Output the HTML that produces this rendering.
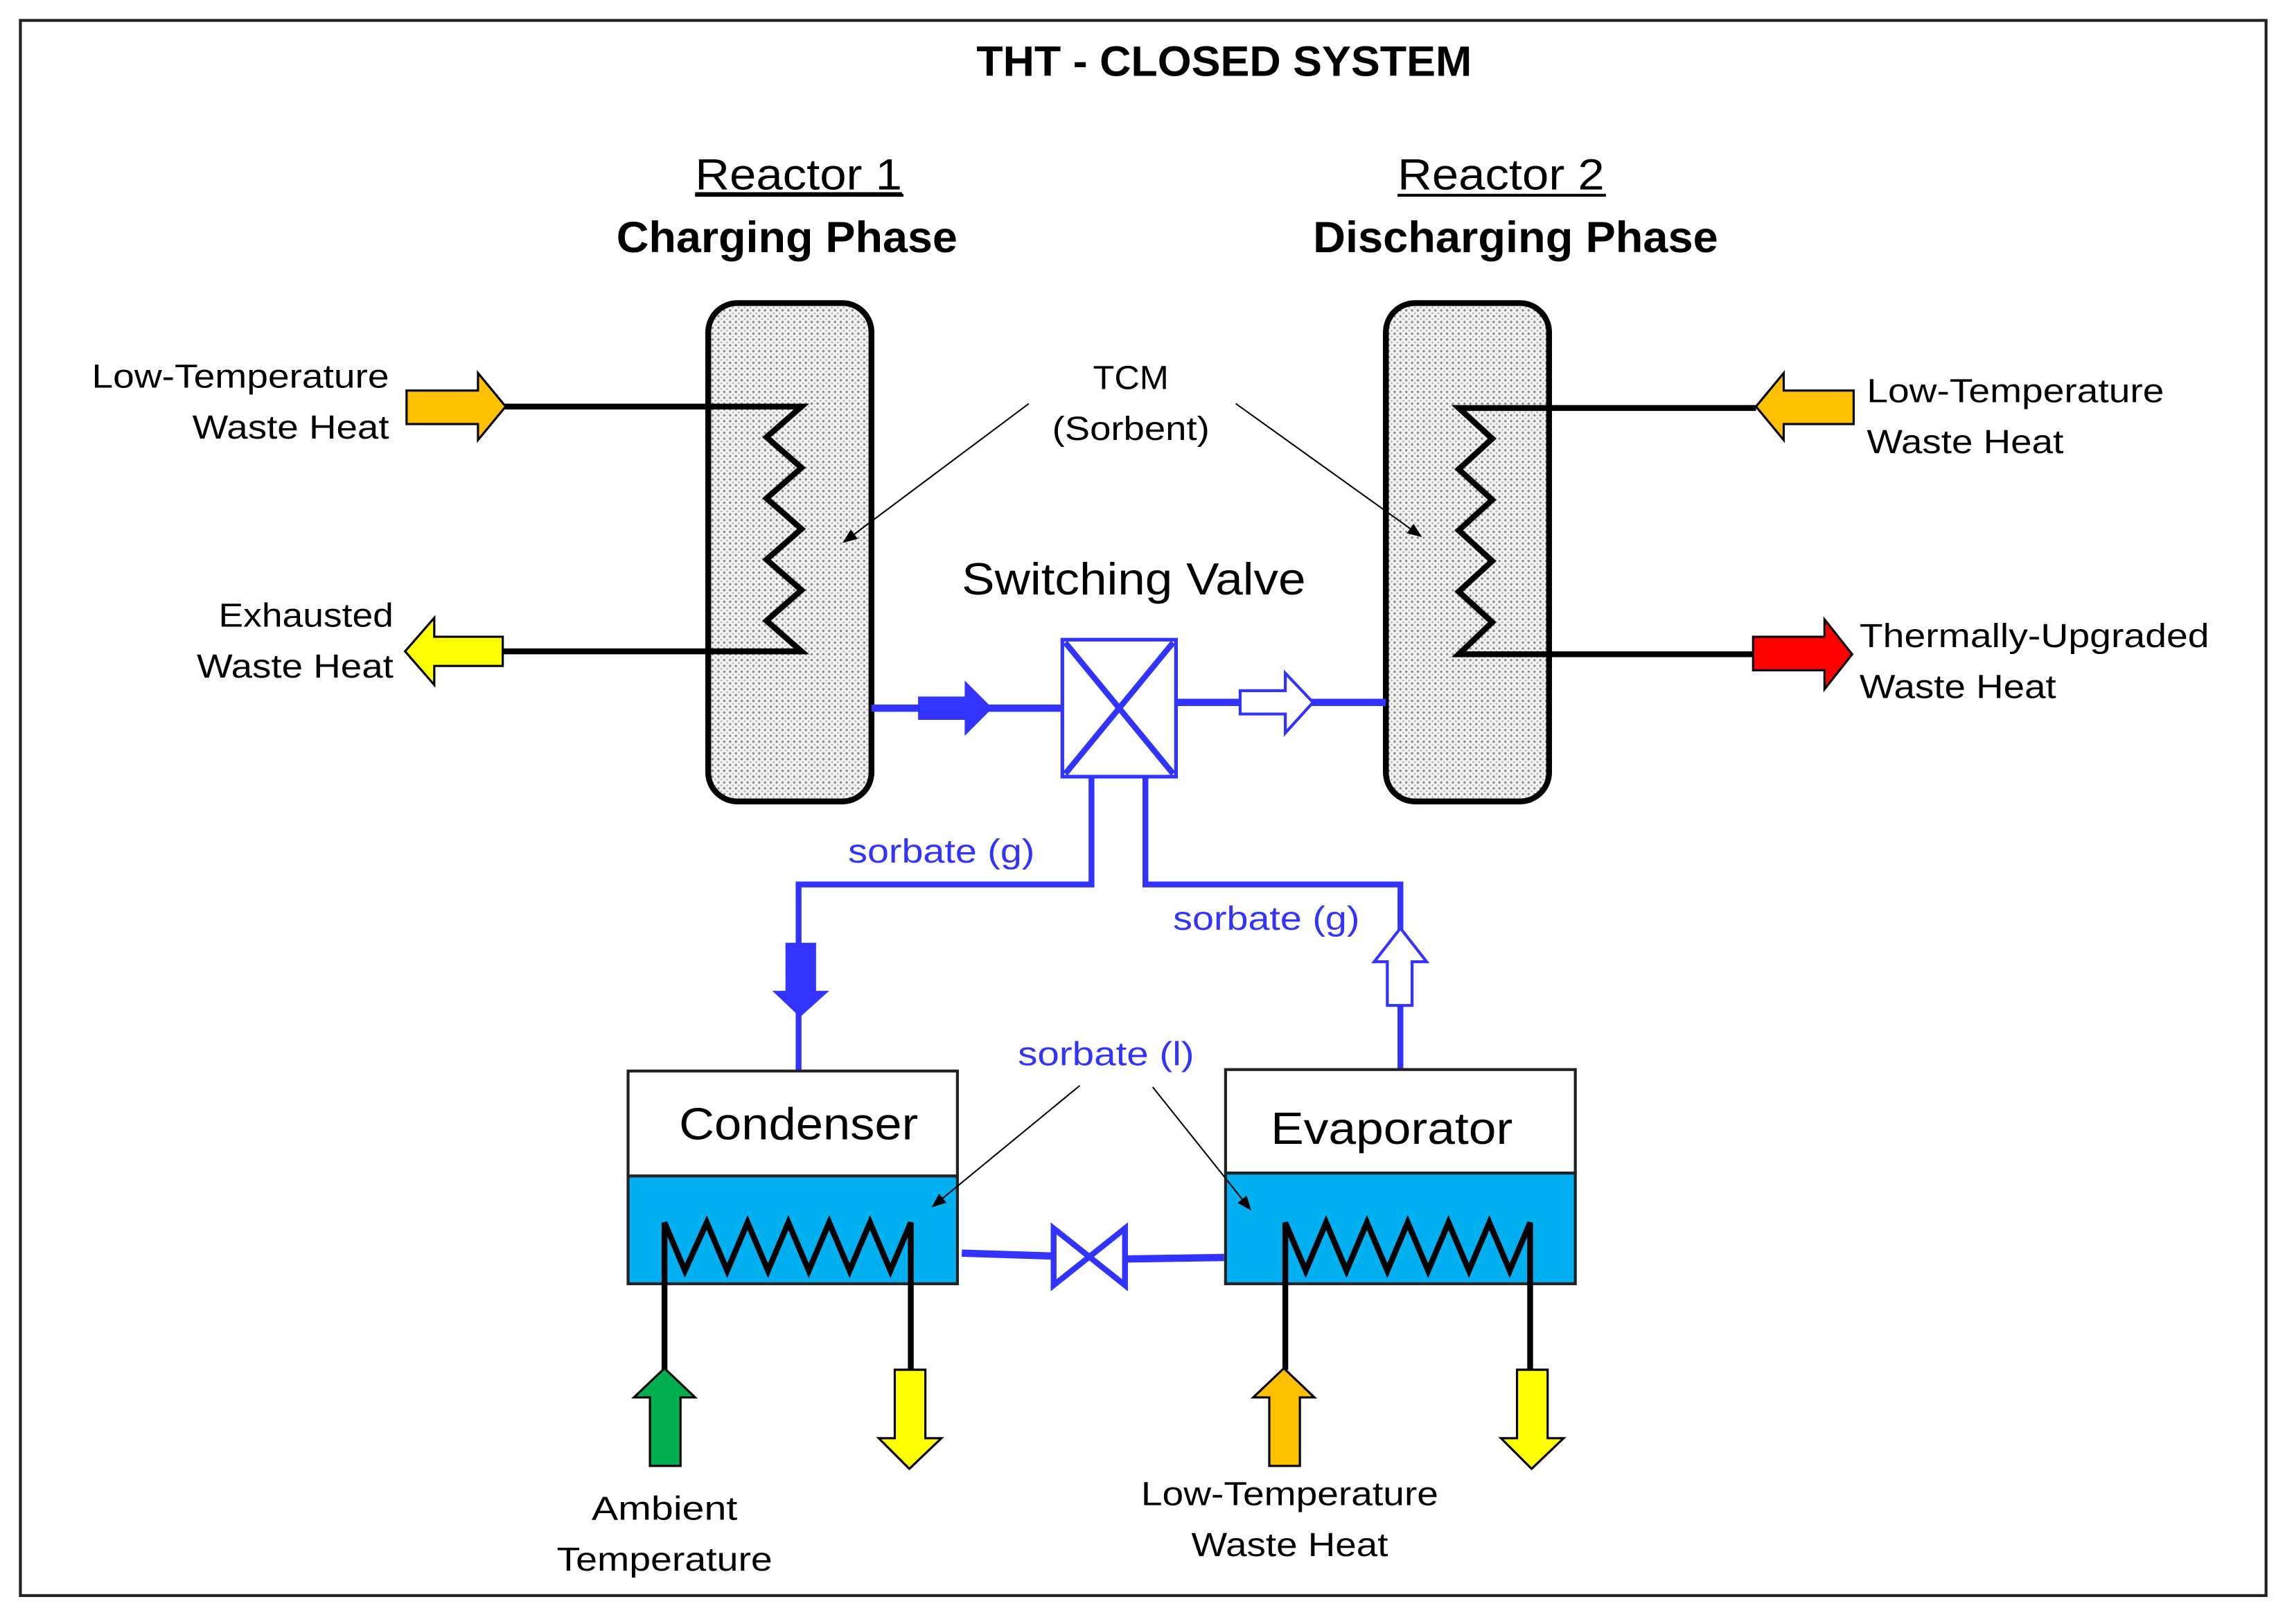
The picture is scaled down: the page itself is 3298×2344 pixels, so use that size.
<!DOCTYPE html>
<html><head><meta charset="utf-8">
<style>html,body{margin:0;padding:0;background:#fff}svg{display:block}</style></head>
<body>
<svg width="3298" height="2344" viewBox="0 0 1568 1114.5" preserveAspectRatio="none" xmlns="http://www.w3.org/2000/svg" font-family="'Liberation Sans', sans-serif">
<defs>
<pattern id="dots" width="4" height="4" patternUnits="userSpaceOnUse">
<rect width="4" height="4" fill="#f2f2f2"/>
<circle cx="1" cy="1" r="0.8" fill="#888"/>
<circle cx="3" cy="3" r="0.6" fill="#aaa"/>
</pattern>
<marker id="ah" markerWidth="10" markerHeight="10" refX="9" refY="5" orient="auto" markerUnits="userSpaceOnUse">
<path d="M0,1 L10,5 L0,9 Z" fill="#000"/>
</marker>
</defs>
<rect x="0" y="0" width="1568" height="1114.5" fill="#fff"/>
<rect x="14" y="14" width="1541" height="1081" fill="none" stroke="#222" stroke-width="2"/>

<text x="840" y="52" font-size="29" font-weight="bold" text-anchor="middle" textLength="340" lengthAdjust="spacingAndGlyphs">THT - CLOSED SYSTEM</text>
<text x="548" y="130" font-size="30" text-anchor="middle" text-decoration="underline" textLength="142" lengthAdjust="spacingAndGlyphs">Reactor 1</text>
<line x1="477" y1="134" x2="620" y2="134" stroke="#000" stroke-width="2"/>
<text x="540" y="173" font-size="30" font-weight="bold" text-anchor="middle" textLength="234" lengthAdjust="spacingAndGlyphs">Charging Phase</text>
<text x="1030" y="130" font-size="30" text-anchor="middle" textLength="142" lengthAdjust="spacingAndGlyphs">Reactor 2</text>
<line x1="959" y1="134" x2="1102" y2="134" stroke="#000" stroke-width="2"/>
<text x="1040" y="173" font-size="30" font-weight="bold" text-anchor="middle" textLength="278" lengthAdjust="spacingAndGlyphs">Discharging Phase</text>

<!-- reactors -->
<rect x="486" y="208" width="112" height="342" rx="20" fill="url(#dots)" stroke="#000" stroke-width="4"/>
<rect x="951" y="208" width="112" height="342" rx="20" fill="url(#dots)" stroke="#000" stroke-width="4"/>

<!-- reactor 1 coil -->
<polyline points="345,279 550,279 526,300 550,321 526,342 550,363 526,384 550,405 526,426 550,447 345,447" fill="none" stroke="#000" stroke-width="4"/>
<!-- reactor 2 coil -->
<polyline points="1205,280 1001,280 1024,301 1001,322 1024,343 1001,364 1024,385 1001,406 1024,427 1001,449 1203,449" fill="none" stroke="#000" stroke-width="4"/>

<!-- heat arrows reactor 1 -->
<polygon points="279,268 328,268 328,256 347,279 328,302 328,291 279,291" fill="#ffc000" stroke="#000" stroke-width="1.5"/>
<polygon points="345,437 298,437 298,424 278,447 298,470 298,457 345,457" fill="#ffff00" stroke="#000" stroke-width="1.5"/>
<!-- heat arrows reactor 2 -->
<polygon points="1272,268 1224,268 1224,256 1205,279 1224,302 1224,291 1272,291" fill="#ffc000" stroke="#000" stroke-width="1.5"/>
<polygon points="1203,437 1252,437 1252,425 1271,449 1252,473 1252,460 1203,460" fill="#ff0000" stroke="#000" stroke-width="1.5"/>

<g font-size="23">
<text x="267" y="266" text-anchor="end" textLength="204" lengthAdjust="spacingAndGlyphs">Low-Temperature</text>
<text x="267" y="301" text-anchor="end" textLength="135" lengthAdjust="spacingAndGlyphs">Waste Heat</text>
<text x="270" y="430" text-anchor="end" textLength="120" lengthAdjust="spacingAndGlyphs">Exhausted</text>
<text x="270" y="465" text-anchor="end" textLength="135" lengthAdjust="spacingAndGlyphs">Waste Heat</text>
<text x="1281" y="276" textLength="204" lengthAdjust="spacingAndGlyphs">Low-Temperature</text>
<text x="1281" y="311" textLength="135" lengthAdjust="spacingAndGlyphs">Waste Heat</text>
<text x="1276" y="444" textLength="240" lengthAdjust="spacingAndGlyphs">Thermally-Upgraded</text>
<text x="1276" y="479" textLength="135" lengthAdjust="spacingAndGlyphs">Waste Heat</text>
<text x="776" y="267" text-anchor="middle" textLength="52" lengthAdjust="spacingAndGlyphs">TCM</text>
<text x="776" y="302" text-anchor="middle" textLength="108" lengthAdjust="spacingAndGlyphs">(Sorbent)</text>
</g>
<line x1="706" y1="277" x2="579" y2="372" stroke="#000" stroke-width="1" marker-end="url(#ah)"/>
<line x1="848" y1="277" x2="975" y2="368" stroke="#000" stroke-width="1" marker-end="url(#ah)"/>

<text x="778" y="408" font-size="31" text-anchor="middle" textLength="236" lengthAdjust="spacingAndGlyphs">Switching Valve</text>

<!-- blue piping -->
<g stroke="#3333ff" fill="none">
<line x1="598" y1="486" x2="728" y2="486" stroke-width="5"/>
<line x1="807" y1="482" x2="951" y2="482" stroke-width="5"/>
<rect x="729" y="439" width="78" height="94" stroke-width="2.5" fill="#fff"/>
<line x1="731" y1="441" x2="805" y2="531" stroke-width="4"/>
<line x1="805" y1="441" x2="731" y2="531" stroke-width="4"/>
<polyline points="749,533 749,607 548,607 548,740" stroke-width="4"/>
<polyline points="786,533 786,607 961,607 961,735" stroke-width="4"/>
<line x1="660" y1="860" x2="724" y2="862" stroke-width="5"/>
<line x1="772" y1="864" x2="840" y2="863" stroke-width="5"/>
<polygon points="723,843 772,882 772,843 723,882" stroke-width="4" stroke-linejoin="miter"/>
</g>
<!-- blue arrows -->
<polygon points="630,478 662,478 662,467 681,486 662,505 662,494 630,494" fill="#3333ff"/>
<polygon points="851,474 882,474 882,462 901,482 882,503 882,490 851,490" fill="#fff" stroke="#3333ff" stroke-width="2"/>
<polygon points="539,647 560,647 560,680 569,680 549,698 530,680 539,680" fill="#3333ff"/>
<polygon points="952,690 969,690 969,660 979,660 961,637 943,660 952,660" fill="#fff" stroke="#3333ff" stroke-width="2"/>

<g font-size="23" fill="#3333ff">
<text x="646" y="592" text-anchor="middle" textLength="128" lengthAdjust="spacingAndGlyphs">sorbate (g)</text>
<text x="869" y="638" text-anchor="middle" textLength="128" lengthAdjust="spacingAndGlyphs">sorbate (g)</text>
<text x="759" y="731" text-anchor="middle" textLength="121" lengthAdjust="spacingAndGlyphs">sorbate (l)</text>
</g>

<!-- condenser -->
<rect x="431" y="807" width="226" height="74" fill="#00b0f0" stroke="#222" stroke-width="2"/>
<rect x="431" y="735" width="226" height="72" fill="#fff" stroke="#222" stroke-width="2"/>
<text x="548" y="782" font-size="31" text-anchor="middle" textLength="164" lengthAdjust="spacingAndGlyphs">Condenser</text>
<!-- evaporator -->
<rect x="841" y="805" width="240" height="76" fill="#00b0f0" stroke="#222" stroke-width="2"/>
<rect x="841" y="734" width="240" height="71" fill="#fff" stroke="#222" stroke-width="2"/>
<text x="955" y="785" font-size="31" text-anchor="middle" textLength="166" lengthAdjust="spacingAndGlyphs">Evaporator</text>

<!-- coils -->
<polyline points="456,940 456,839 470,872 485,839 499,872 513,839 527,872 541,839 555,872 569,839 583,872 597,839 611,872 625,839 625,940" fill="none" stroke="#000" stroke-width="4" stroke-linejoin="miter"/>
<polyline points="882,940 882,839 896,872 910,839 924,872 938,839 952,872 966,839 980,872 994,839 1008,872 1022,839 1036,872 1050,839 1050,940" fill="none" stroke="#000" stroke-width="4" stroke-linejoin="miter"/>

<line x1="741" y1="745" x2="640" y2="828" stroke="#000" stroke-width="1" marker-end="url(#ah)"/>
<line x1="791" y1="746" x2="858" y2="830" stroke="#000" stroke-width="1" marker-end="url(#ah)"/>

<!-- bottom arrows -->
<polygon points="446,1006 467,1006 467,959 477,959 456,939 435,959 446,959" fill="#00b050" stroke="#000" stroke-width="1.5"/>
<polygon points="614,940 635,940 635,987 646,987 624,1008 603,987 614,987" fill="#ffff00" stroke="#000" stroke-width="1.5"/>
<polygon points="871,1006 892,1006 892,959 902,959 881,939 860,959 871,959" fill="#ffc000" stroke="#000" stroke-width="1.5"/>
<polygon points="1041,940 1062,940 1062,987 1073,987 1051,1008 1030,987 1041,987" fill="#ffff00" stroke="#000" stroke-width="1.5"/>

<g font-size="23" text-anchor="middle">
<text x="456" y="1043" textLength="100" lengthAdjust="spacingAndGlyphs">Ambient</text>
<text x="456" y="1078" textLength="148" lengthAdjust="spacingAndGlyphs">Temperature</text>
<text x="885" y="1033" textLength="204" lengthAdjust="spacingAndGlyphs">Low-Temperature</text>
<text x="885" y="1068" textLength="135" lengthAdjust="spacingAndGlyphs">Waste Heat</text>
</g>
</svg>
</body></html>
